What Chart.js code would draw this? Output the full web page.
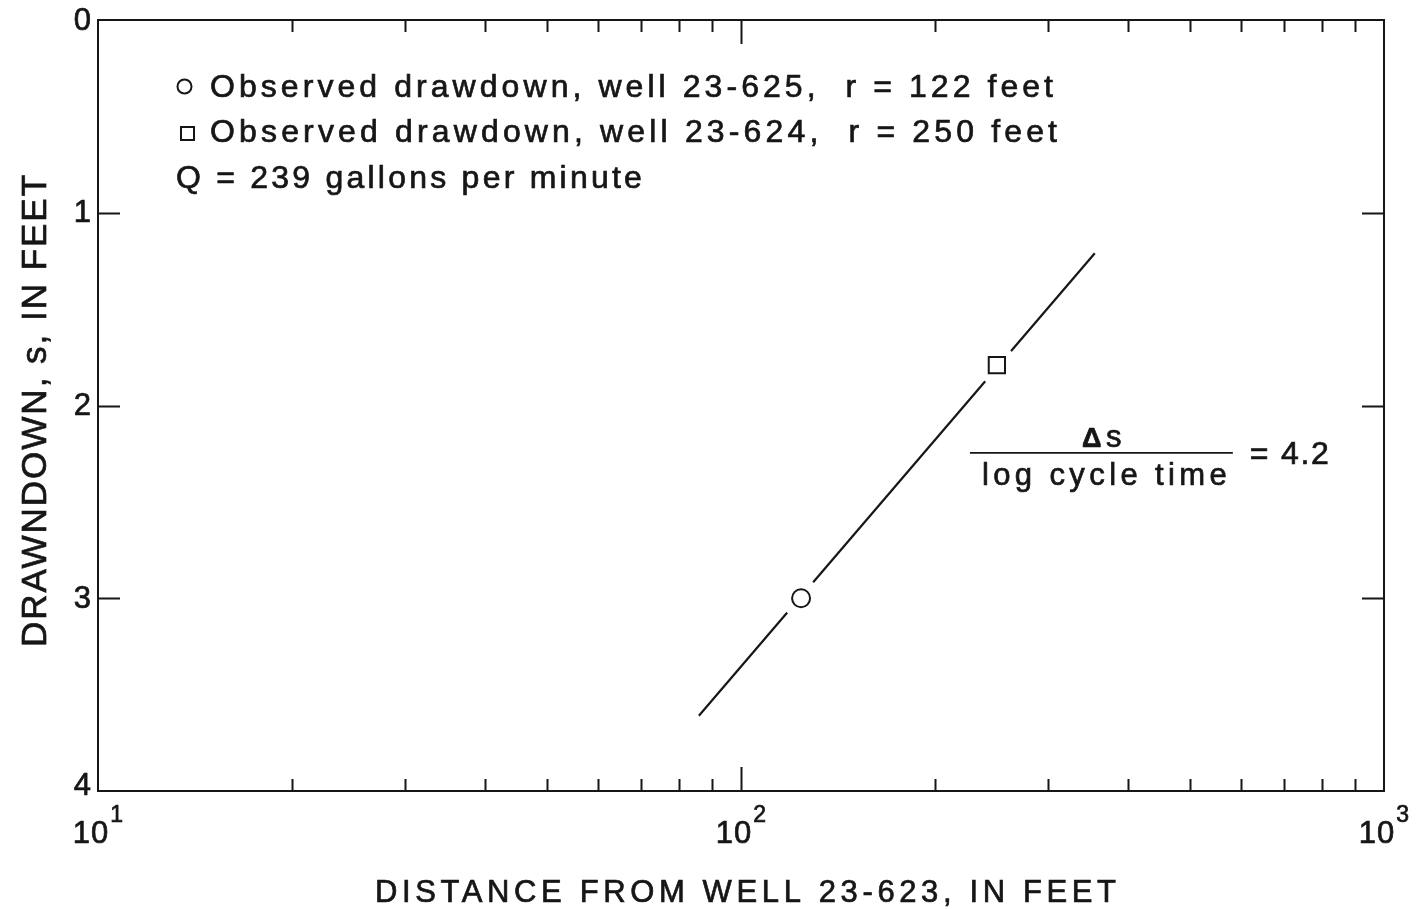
<!DOCTYPE html>
<html><head><meta charset="utf-8">
<script src="https://cdn.jsdelivr.net/npm/chart.js@4.4.1/dist/chart.umd.min.js"></script>
<style>html,body{margin:0;padding:0;background:#fff;}canvas{display:block;}</style>
</head><body>
<canvas id="c" width="1419" height="909"></canvas>
<script>
// ---- data ----
const wellIds = ['23-625', '23-624'];
const obsDistance = [124, 250];      // feet (x)
const obsDrawdown = [3.0, 1.79];     // feet (y)
const obsStyle = ['circle', 'rect'];
const fitDistance = [86, 355];       // straight-line fit end points
const fitDrawdown = [3.61, 1.21];
const xMajorTicks = [10, 100, 1000];
const xMajorBase = ['10', '10', '10'];
const xMajorExp = ['1', '2', '3'];
const xMinorTicks = [20, 30, 40, 50, 60, 70, 80, 90, 200, 300, 400, 500, 600, 700, 800, 900];
const yTicks = [0, 1, 2, 3, 4];
const yInnerTicks = [1, 2, 3];
const legendTexts = [
  'Observed drawdown, well 23-625,  r = 122 feet',
  'Observed drawdown, well 23-624,  r = 250 feet',
  'Q = 239 gallons per minute'
];
const xTitle = 'DISTANCE FROM WELL 23-623, IN FEET';
const yTitle = 'DRAWNDOWN, s, IN FEET';
const slopeNum = 's';
const slopeDen = 'log cycle time';
const slopeVal = '= 4.2';

const INK = '#161616';
const FONT = '"Liberation Sans", Arial, Helvetica, sans-serif';

function inkText(ctx, text, x, y) {
  ctx.fillText(text, x, y);
  ctx.strokeText(text, x, y);
}

function fitText(ctx, text, x0, x1, y, size, weight) {
  ctx.save();
  ctx.font = (weight || 'normal') + ' ' + size + 'px ' + FONT;
  ctx.letterSpacing = '0px';
  const w0 = ctx.measureText(text).width;
  const n = [...text].length;
  const ls = n > 1 ? (x1 - x0 - w0) / (n - 1) : 0;
  ctx.letterSpacing = ls.toFixed(2) + 'px';
  ctx.textAlign = 'left';
  ctx.textBaseline = 'alphabetic';
  ctx.fillStyle = INK; ctx.strokeStyle = INK; ctx.lineWidth = 0.7;
  inkText(ctx, text, x0, y);
  ctx.restore();
}

const frame = {
  id: 'frame',
  beforeDraw(chart) {
    const c = chart.ctx;
    c.save(); c.fillStyle = '#fff'; c.fillRect(0, 0, chart.width, chart.height); c.restore();
  },
  afterDraw(chart) {
    const c = chart.ctx, a = chart.chartArea, xs = chart.scales.x, ys = chart.scales.y;
    c.save();
    c.strokeStyle = INK; c.lineWidth = 2; c.lineCap = 'butt';
    c.strokeRect(a.left, a.top, a.right - a.left, a.bottom - a.top);
    c.beginPath();
    xMinorTicks.forEach(v => {
      const p = Math.round(xs.getPixelForValue(v)) + 0.5;
      c.moveTo(p, a.bottom); c.lineTo(p, a.bottom - 12);
      c.moveTo(p, a.top); c.lineTo(p, a.top + 12);
    });
    xMajorTicks.forEach(v => {
      const p = Math.round(xs.getPixelForValue(v)) + 0.5;
      if (v > xs.min && v < xs.max) {
        c.moveTo(p, a.bottom); c.lineTo(p, a.bottom - 24);
        c.moveTo(p, a.top); c.lineTo(p, a.top + 24);
      }
    });
    yInnerTicks.forEach(v => {
      const p = Math.round(ys.getPixelForValue(v)) + 0.5;
      c.moveTo(a.left, p); c.lineTo(a.left + 22, p);
      c.moveTo(a.right, p); c.lineTo(a.right - 22, p);
    });
    c.stroke();

    // y tick labels
    c.fillStyle = INK; c.lineWidth = 0.7;
    c.font = '31px ' + FONT;
    c.textAlign = 'right'; c.textBaseline = 'middle';
    yTicks.forEach(v => {
      const p = ys.getPixelForValue(v);
      inkText(c, String(v), a.left - 7, p + (v === 4 ? -5 : (v === 0 ? 1 : 1)));
    });

    // x tick labels with superscripts
    c.textAlign = 'left'; c.textBaseline = 'alphabetic';
    xMajorTicks.forEach((v, i) => {
      const p = xs.getPixelForValue(v);
      c.font = '31px ' + FONT;
      c.letterSpacing = '1px';
      const wb = c.measureText(xMajorBase[i]).width - 1;
      c.font = '23px ' + FONT;
      c.letterSpacing = '0px';
      const we = c.measureText(xMajorExp[i]).width;
      const start = p - (wb + 2 + we) / 2;
      c.font = '31px ' + FONT; c.letterSpacing = '1px';
      inkText(c, xMajorBase[i], start, a.bottom + 52);
      c.font = '23px ' + FONT; c.letterSpacing = '0px';
      inkText(c, xMajorExp[i], start + wb + 2, a.bottom + 31);
    });
    c.restore();

    // axis titles
    fitText(c, xTitle, 375, 1116, 902, 31);
    c.save();
    c.translate(46, 647);
    c.rotate(-Math.PI / 2);
    fitText(c, yTitle, 0, 472, 0, 35);
    c.restore();

    // legend block
    c.save();
    c.strokeStyle = INK; c.lineWidth = 2;
    c.beginPath(); c.arc(184.5, 86.5, 7, 0, Math.PI * 2); c.stroke();
    c.strokeRect(181, 127, 13, 13);
    c.restore();
    fitText(c, legendTexts[0], 210, 1053, 97, 32);
    fitText(c, legendTexts[1], 210, 1057, 142, 32);
    fitText(c, legendTexts[2], 176, 642, 188, 32);

    // slope annotation (anchored to data scale)
    const fx0 = xs.getPixelForValue(227), fx1 = xs.getPixelForValue(582);
    const fy = ys.getPixelForValue(2.246);
    c.save();
    c.strokeStyle = INK; c.lineWidth = 1.6;
    c.beginPath(); c.moveTo(fx0, fy); c.lineTo(fx1, fy); c.stroke();
    c.fillStyle = INK; c.lineWidth = 0.7;
    c.font = 'bold 27px ' + FONT;
    c.textAlign = 'left'; c.textBaseline = 'alphabetic';
    inkText(c, '\u0394', fx0 + 112, fy - 6);
    c.font = '31px ' + FONT;
    inkText(c, slopeNum, fx0 + 136, fy - 6);
    c.restore();
    fitText(c, slopeDen, fx0 + 12, fx1 - 6, fy + 32, 31);
    fitText(c, slopeVal, fx1 + 17, fx1 + 96, fy + 11, 32);
  }
};

const obsPoints = obsDistance.map((x, i) => ({ x, y: obsDrawdown[i] }));
const fitPoints = fitDistance.map((x, i) => ({ x, y: fitDrawdown[i] }));

new Chart(document.getElementById('c'), {
  type: 'scatter',
  data: {
    datasets: [
      { label: 'fit', data: fitPoints, showLine: true, borderColor: INK, borderWidth: 2.2,
        pointRadius: 0, order: 3 },
      { label: 'gap', data: obsPoints, pointStyle: 'circle', pointRadius: 20,
        pointBackgroundColor: '#fff', pointBorderColor: '#fff', pointBorderWidth: 0, order: 2 },
      { label: wellIds.join(' / '), data: obsPoints, pointStyle: obsStyle, pointRadius: [9, 11.5],
        pointBackgroundColor: '#fff', pointBorderColor: INK, pointBorderWidth: 2, order: 1 }
    ]
  },
  options: {
    responsive: false, animation: false, events: [],
    layout: { padding: { left: 98, right: 35, top: 20, bottom: 118 } },
    plugins: { legend: { display: false }, tooltip: { enabled: false }, title: { display: false } },
    scales: {
      x: { type: 'logarithmic', min: 10, max: 1000, display: false },
      y: { type: 'linear', reverse: true, min: 0, max: 4, display: false }
    }
  },
  plugins: [frame]
});
</script>
</body></html>
